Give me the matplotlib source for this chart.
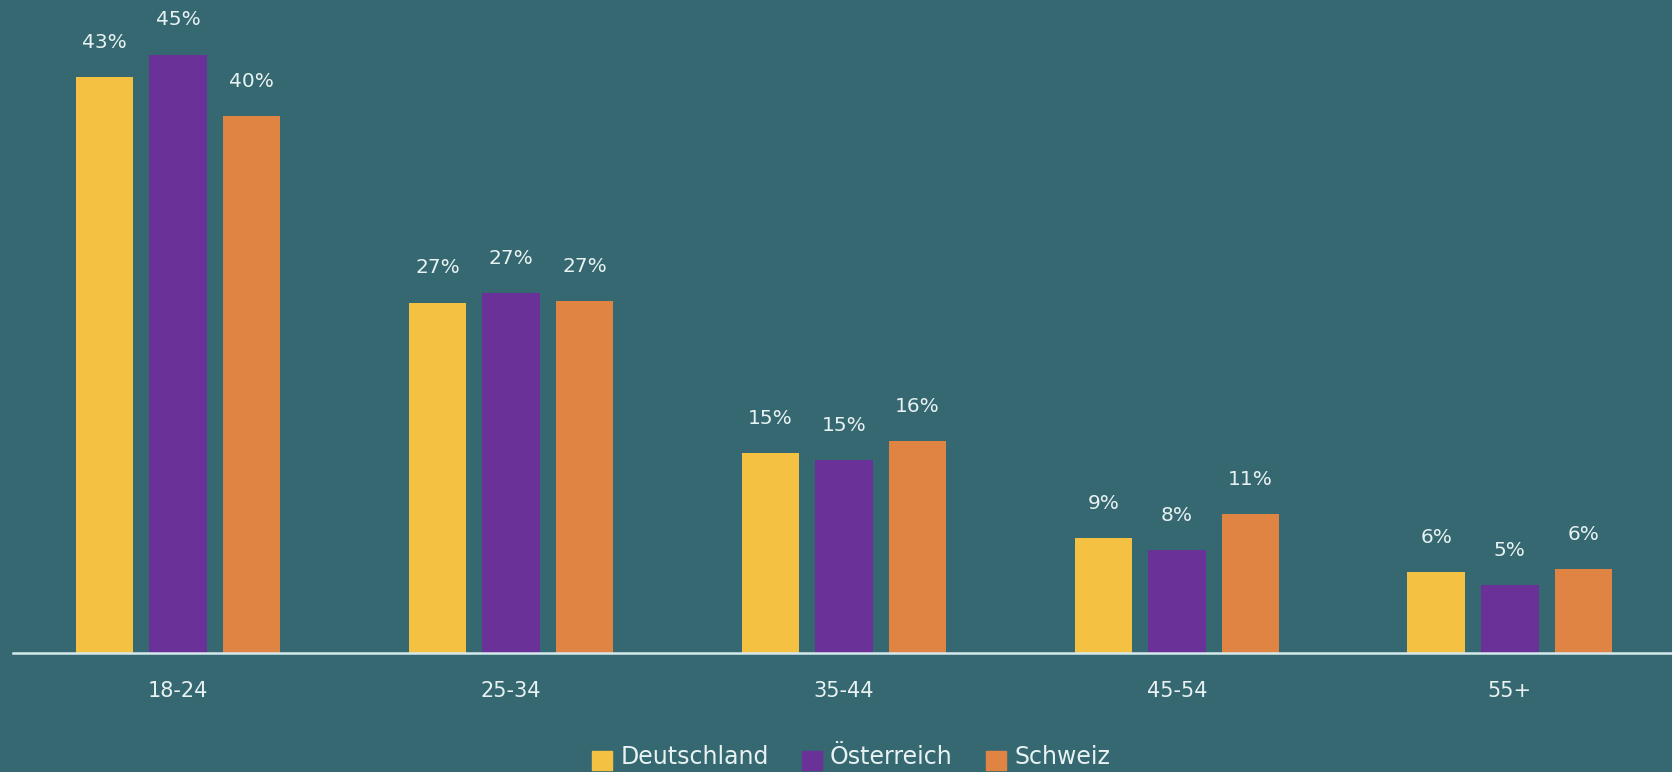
import matplotlib
matplotlib.use("Agg")
import matplotlib.pyplot as plt
from matplotlib.lines import Line2D
from matplotlib.path import Path
import numpy as np

# age groups and share per country (bar heights)
age_groups = ["18-24", "25-34", "35-44", "45-54", "55+"]
countries = ["Deutschland", "Österreich", "Schweiz"]
deutschland = [43.2, 26.3, 15.0, 8.6, 6.1]
oesterreich = [44.9, 27.0, 14.5, 7.7, 5.1]
schweiz = [40.3, 26.4, 15.9, 10.4, 6.3]
# printed labels
deutschland_lbl = ["43%", "27%", "15%", "9%", "6%"]
oesterreich_lbl = ["45%", "27%", "15%", "8%", "5%"]
schweiz_lbl = ["40%", "27%", "16%", "11%", "6%"]

bg = "#366871"
txt = "#e8f2f2"
colors = ["#f5c142", "#6a3199", "#e08444"]

plt.rcParams["font.family"] = ["DejaVu Sans"]

fig = plt.figure(figsize=(16.72, 7.72), dpi=100, facecolor=bg)
ax = fig.add_axes([0.0077, 0.154, 0.9923, 0.846])
ax.set_facecolor(bg)

x = np.arange(len(age_groups))
width = 0.173
step = 0.221
series = [deutschland, oesterreich, schweiz]
labels = [deutschland_lbl, oesterreich_lbl, schweiz_lbl]
for i in range(3):
    xs = x + (i - 1) * step
    ax.bar(xs, series[i], width=width, color=colors[i], zorder=2)
    for xx, v, l in zip(xs, series[i], labels[i]):
        ax.annotate(l, (xx, v), xytext=(0, 25), textcoords="offset points",
                    ha="center", va="center", color=txt, fontsize=14.5)

ax.set_xlim(-0.496, 4.487)
ax.set_ylim(0, 49)
for s in ["top", "right", "left"]:
    ax.spines[s].set_visible(False)
ax.spines["bottom"].set_color("#d6eaee")
ax.spines["bottom"].set_linewidth(1.8)
ax.set_yticks([])
ax.set_xticks(x)
ax.set_xticklabels(age_groups, color=txt, fontsize=15)
ax.tick_params(axis="x", length=0, pad=20)

# square marker sitting a bit below the text centre, like the original
low_square = Path([(-0.5, -0.8), (0.5, -0.8), (0.5, 0.2), (-0.5, 0.2), (-0.5, -0.8)],
                  [Path.MOVETO, Path.LINETO, Path.LINETO, Path.LINETO, Path.CLOSEPOLY])
handles = [Line2D([], [], marker=low_square, linestyle="none", markersize=22,
                  markerfacecolor=c, markeredgecolor=c) for c in colors]
leg = fig.legend(handles, countries, loc="center", bbox_to_anchor=(0.509, 0.02),
                 ncol=3, frameon=False, fontsize=17, handlelength=0.85,
                 handletextpad=0.35, columnspacing=1.4, labelcolor=txt)

fig.savefig("out.png", dpi=100, facecolor=bg)
